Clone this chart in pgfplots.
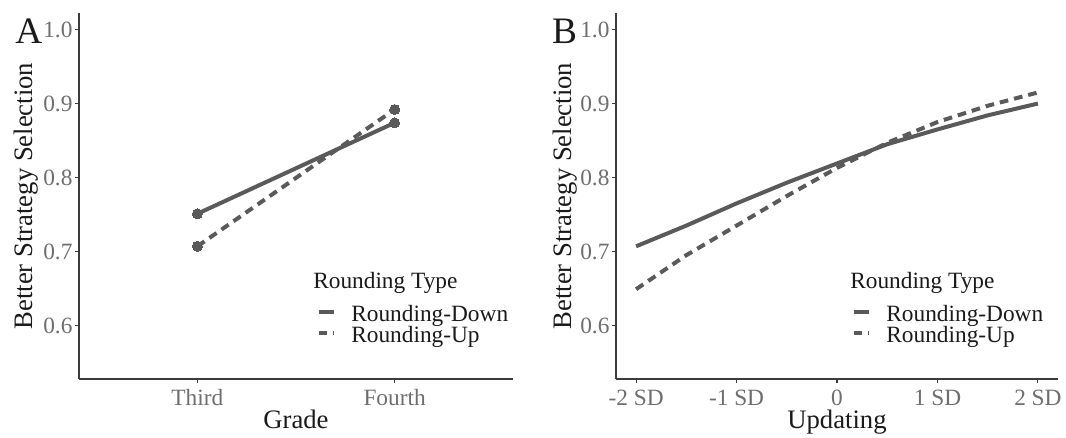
\documentclass[border=0pt]{standalone}
\usepackage{fontspec}
\setmainfont{Liberation Serif}
\usepackage{pgfplots}
\pgfplotsset{compat=1.18}
\definecolor{ln}{HTML}{5A5A5A}
\definecolor{tk}{HTML}{6E6E6E}
\definecolor{ax}{HTML}{3C3C3C}
\definecolor{tx}{HTML}{1A1A1A}

\pgfplotsset{
  panel/.style={
    scale only axis,
    height=274.5pt,
    axis x line*=bottom, axis y line*=left,
    axis line style={-, ax, line width=0.8pt},
    tick align=outside, major tick length=3pt,
    tick style={ax, line width=0.8pt},
    ymin=0.5276, ymax=1.0224,
    ytick={0.6,0.7,0.8,0.9,1.0},
    yticklabels={0.6,0.7,0.8,0.9,1.0},
    ticklabel style={font=\fontsize{17.5}{20}\selectfont, text=tk},
    yticklabel style={inner sep=0pt, xshift=-1.7pt},
    xticklabel style={inner sep=0pt, text height=11.5pt, text depth=0pt, yshift=-5pt},
    label style={font=\fontsize{20}{24}\selectfont, text=tx, inner sep=0pt},
    xlabel style={at={(axis description cs:0.5,-0.1339)}, anchor=base},
    legend style={draw=none, fill=none, inner sep=0pt, outer sep=0pt,
      row sep=0pt, column sep=11.4pt, font=\fontsize{17.5}{15}\selectfont, text=tx,
      nodes={inner sep=0pt, text height=12.3pt, text depth=3.4pt, anchor=base west},
      anchor=north west},
    legend cell align=left,
    legend image code/.code={
      \draw[##1, line width=3pt] (0pt,7pt) -- (11.6pt,7pt);},
  },
  sol/.style={ln, line width=3pt},
  das/.style={ln, line width=3pt, dash pattern=on 6.5pt off 4.5pt},
}

\begin{document}
\begin{tikzpicture}
\useasboundingbox (0,0) rectangle (799.5pt,327.75pt);

% Panel A
\begin{axis}[panel,
  at={(59.25pt,43.5pt)}, anchor=south west,
  width=325.5pt,
  xmin=0.4, xmax=2.6,
  xtick={1,2}, xticklabels={Third,Fourth},
  xlabel={Grade},
  ylabel={Better Strategy Selection},
  ylabel style={at={(axis description cs:-0.106,0.5)}, anchor=base},
  legend style={at={(axis description cs:0.5476,0.2015)}},
]
\addplot[sol, mark=*, mark size=3.75pt, mark options={solid, fill=ln, draw=ln, line width=0pt}]
  coordinates {(1,0.751) (2,0.874)};
\addlegendentry{Rounding-Down}
\addplot[das, mark=*, mark size=3.75pt, mark options={solid, fill=ln, draw=ln, line width=0pt}]
  coordinates {(1,0.707) (2,0.892)};
\addlegendentry{Rounding-Up}
\node[anchor=base west, inner sep=0pt, font=\fontsize{17.5}{20}\selectfont, text=tx]
  at (axis description cs:0.5392,0.2486) {Rounding Type};
\end{axis}

% Panel B
\begin{axis}[panel,
  at={(462pt,43.5pt)}, anchor=south west,
  width=331.5pt,
  xmin=-2.2, xmax=2.2,
  xtick={-2,-1,0,1,2}, xticklabels={-2 SD,-1 SD,0,1 SD,2 SD},
  xlabel={Updating},
  ylabel={Better Strategy Selection},
  ylabel style={at={(axis description cs:-0.101,0.5)}, anchor=base},
  legend style={at={(axis description cs:0.5333,0.2015)}},
]
\addplot[sol] coordinates {(-2,0.707) (-1.5,0.735) (-1,0.765) (-0.5,0.793) (0,0.819) (0.5,0.845) (1,0.865) (1.5,0.884) (2,0.900)};
\addlegendentry{Rounding-Down}
\addplot[das] coordinates {(-2,0.649) (-1.5,0.695) (-1,0.735) (-0.5,0.775) (0,0.813) (0.5,0.847) (1,0.875) (1.5,0.897) (2,0.915)};
\addlegendentry{Rounding-Up}
\node[anchor=base west, inner sep=0pt, font=\fontsize{17.5}{20}\selectfont, text=tx]
  at (axis description cs:0.5294,0.2486) {Rounding Type};
\end{axis}

\node[anchor=base west, inner sep=0pt, font=\fontsize{28}{32}\selectfont, text=tx] at (11.25pt,295.5pt) {A};
\node[anchor=base west, inner sep=0pt, font=\fontsize{28}{32}\selectfont, text=tx] at (413.8pt,295.5pt) {B};
\end{tikzpicture}
\end{document}
